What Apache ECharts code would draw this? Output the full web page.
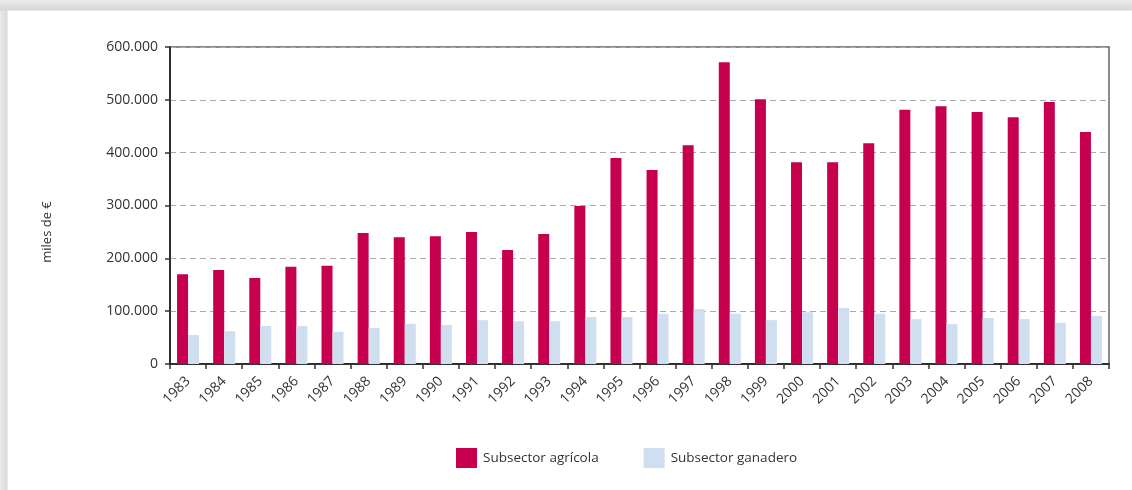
<!DOCTYPE html>
<html>
<head>
<meta charset="utf-8">
<script src="https://cdn.jsdelivr.net/npm/echarts@6/dist/echarts.min.js"></script>
<style>
  html, body { margin: 0; padding: 0; width: 1132px; height: 490px; overflow: hidden; background: #ffffff; }
  #frame {
    position: absolute; left: 0; top: 0; width: 1132px; height: 490px;
    background:
      linear-gradient(to bottom, #ececec 0px, #d6d6d6 10px, rgba(0,0,0,0) 11px),
      linear-gradient(to right, #ebebeb 0px, #d9d9d9 7px, rgba(0,0,0,0) 8px),
      #ffffff;
  }
  #card {
    position: absolute; left: 8px; top: 11px; right: 0; bottom: 0;
    background: #ffffff;
  }
  #chart { position: absolute; left: 0; top: 0; width: 1132px; height: 490px; }
</style>
</head>
<body>
<div id="frame"><div id="card"></div></div>
<div id="chart"></div>
<script>
// Años de la serie
const years = ['1983','1984','1985','1986','1987','1988','1989','1990','1991','1992','1993','1994','1995',
               '1996','1997','1998','1999','2000','2001','2002','2003','2004','2005','2006','2007','2008'];

// Valores en miles de euros
const agricola = [170000, 178000, 163000, 184000, 186000, 248000, 240000, 242000, 250000, 216000, 246000, 299000, 390000,
                  367000, 414000, 571000, 501000, 382000, 382000, 418000, 481000, 488000, 477000, 467000, 496000, 439000];
const ganadero = [55000, 62000, 72000, 72000, 61000, 68000, 76000, 74000, 83000, 81000, 81000, 89000, 89000,
                  95000, 104000, 95000, 83000, 98000, 106000, 95000, 85000, 76000, 87000, 85000, 78000, 91000];

const seriesNames = ['Subsector agrícola', 'Subsector ganadero'];
const yTicks = [0, 100000, 200000, 300000, 400000, 500000, 600000];
const unitLabel = 'miles de €';

function miles(v) {
  return String(v).replace(/\B(?=(\d{3})+(?!\d))/g, '.');
}

const chart = echarts.init(document.getElementById('chart'), null, { renderer: 'canvas' });
const font = '"Open Sans", "Noto Sans", sans-serif';

chart.setOption({
  backgroundColor: 'transparent',
  animation: false,
  textStyle: { fontFamily: font },
  grid: {
    left: 170, right: 23, top: 47, bottom: 126,
    show: true, borderColor: '#666', borderWidth: 1.5, backgroundColor: 'transparent'
  },
  graphic: [{
    type: 'text',
    x: 47, y: 232,
    rotation: Math.PI / 2,
    style: {
      text: unitLabel,
      fontSize: 13, fill: '#333', fontFamily: font,
      align: 'center', verticalAlign: 'middle'
    }
  }],
  legend: {
    data: seriesNames,
    left: 456, top: 448, padding: 0,
    itemWidth: 21, itemHeight: 20, itemGap: 45,
    icon: 'rect',
    textStyle: { fontSize: 13.5, color: '#333', fontFamily: font, padding: [0, 0, 0, 1] }
  },
  xAxis: {
    type: 'category',
    data: years,
    boundaryGap: true,
    axisLine: { lineStyle: { color: '#111', width: 1.5 } },
    axisTick: { show: true, alignWithLabel: false, length: 5, lineStyle: { color: '#333', width: 1.5 } },
    axisLabel: { rotate: 45, margin: 15, fontSize: 14, color: '#333', fontFamily: font, interval: 0 }
  },
  yAxis: {
    type: 'value',
    min: yTicks[0], max: yTicks[yTicks.length - 1], interval: yTicks[1] - yTicks[0],
    axisLine: { show: true, lineStyle: { color: '#111', width: 1.5 } },
    axisTick: { show: true, length: 5, lineStyle: { color: '#333', width: 1.5 } },
    axisLabel: { margin: 12, fontSize: 14, color: '#333', fontFamily: font, formatter: miles },
    splitLine: { show: true, lineStyle: { color: '#aaa', type: [6, 4], width: 1.2 } }
  },
  series: [
    {
      name: seriesNames[0], type: 'bar', data: agricola,
      barWidth: 11, barGap: '0%',
      itemStyle: { color: '#C6004F' }
    },
    {
      name: seriesNames[1], type: 'bar', data: ganadero,
      barWidth: 11, barGap: '0%',
      itemStyle: { color: '#D0DFEF' }
    }
  ]
});
</script>
</body>
</html>
